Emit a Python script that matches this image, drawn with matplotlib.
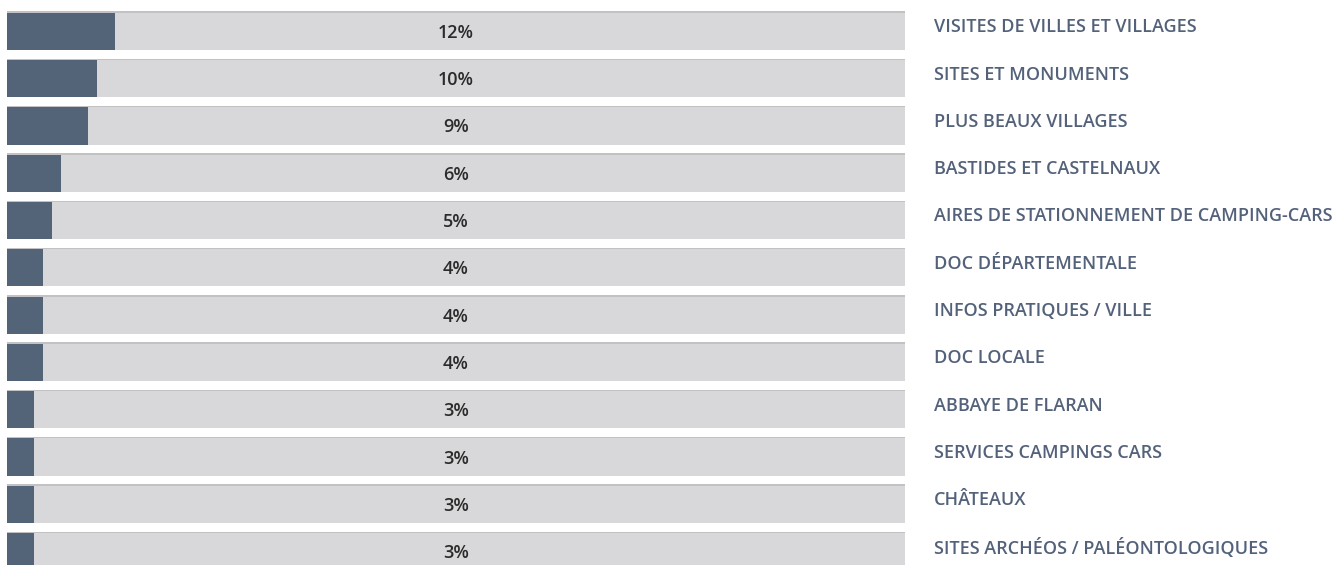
import matplotlib
matplotlib.use('Agg')
import matplotlib.pyplot as plt
import matplotlib.transforms as mtransforms

plt.rcParams['font.family'] = ['Open Sans', 'DejaVu Sans']

categories = [
    'VISITES DE VILLES ET VILLAGES',
    'SITES ET MONUMENTS',
    'PLUS BEAUX VILLAGES',
    'BASTIDES ET CASTELNAUX',
    'AIRES DE STATIONNEMENT DE CAMPING-CARS',
    'DOC DÉPARTEMENTALE',
    'INFOS PRATIQUES / VILLE',
    'DOC LOCALE',
    'ABBAYE DE FLARAN',
    'SERVICES CAMPINGS CARS',
    'CHÂTEAUX',
    'SITES ARCHÉOS / PALÉONTOLOGIQUES',
]
values = [12, 10, 9, 6, 5, 4, 4, 4, 3, 3, 3, 3]

W, H = 1337, 565
fig = plt.figure(figsize=(W / 100, H / 100), dpi=100)
# axes spans the track area, rows spaced ~47.3 px, first centre at 31 px
ax = fig.add_axes([7 / W, 0, 898 / W, 1])
rows = range(len(values))
ax.barh(rows, [100] * len(values), height=0.80, color='#d8d8da',
        edgecolor='none')
ax.barh(rows, values, height=0.80, color='#546478', edgecolor='none')
# faint top edge on the track
ax.barh([r - 0.40 for r in rows], [100] * len(values), height=0.03,
        color='#c2c2c4', edgecolor='none')

ax.set_xlim(0, 100)
ax.set_ylim((H - 31) / 47.3, -31 / 47.3)
ax.axis('off')

for i, v in enumerate(values):
    ax.text(50, i + 0.04, f'{v}%', ha='center', va='center', fontsize=13,
            fontweight='semibold', color='#2b2b2b')

trans = mtransforms.blended_transform_factory(fig.transFigure, ax.transData)
for i, c in enumerate(categories):
    ax.text(934 / W, i - 0.08, c, transform=trans, ha='left', va='center',
            fontsize=13, fontweight='semibold', color='#53627a',
            clip_on=False)

fig.savefig('out.png', dpi=100)
